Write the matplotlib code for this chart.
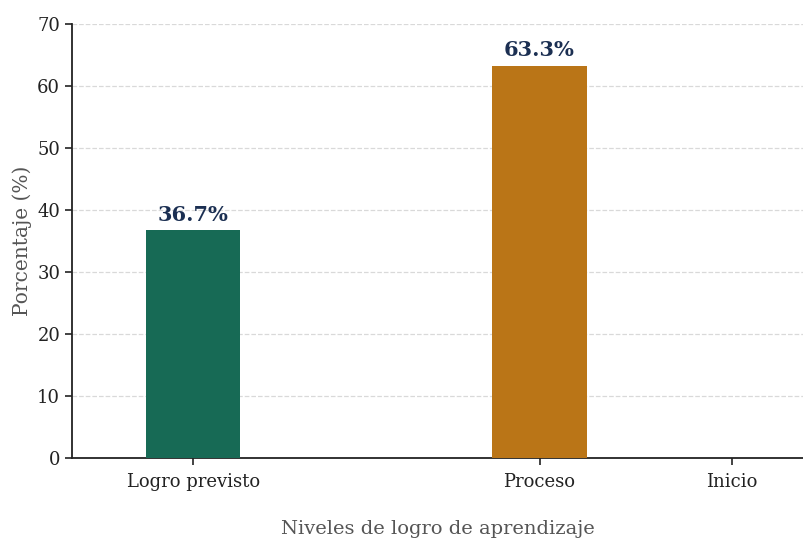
import matplotlib.pyplot as plt

categories = ['Logro previsto', 'Proceso', 'Inicio']
values = [36.7, 63.3, 0.0]
labels = ['36.7%', '63.3%', '']
colors = ['#176A55', '#BA7517', '#8C8C8C']

# layout positions along the x axis (uneven, as in the original)
xpos = [0, 1.8, 2.8]

plt.rcParams['font.family'] = ['DejaVu Serif']

fig = plt.figure(figsize=(8.04, 5.4), dpi=100)
ax = fig.add_axes([0.0896, 0.152, 0.9104, 0.8036])

bars = ax.bar(xpos, values, width=0.49, color=colors, zorder=3)
for b, v, lab in zip(bars, values, labels):
    if lab:
        ax.text(b.get_x() + b.get_width() / 2, v + 0.9, lab, ha='center', va='bottom',
                fontsize=15, fontweight='bold', color='#1B2F52', zorder=4)

ax.set_ylim(0, 70)
ax.set_xlim(-0.629, 3.174)
ax.set_yticks(range(0, 71, 10))
ax.set_xticks(xpos)
ax.set_xticklabels(categories)
ax.tick_params(axis='both', labelsize=13, colors='#222222', length=5, width=1.2)
ax.tick_params(axis='x', pad=6)

ax.yaxis.grid(True, linestyle='--', color='#D9D9D9', linewidth=0.9, zorder=0)
ax.set_axisbelow(True)

for s in ['top', 'right']:
    ax.spines[s].set_visible(False)
for s in ['left', 'bottom']:
    ax.spines[s].set_linewidth(1.3)
    ax.spines[s].set_color('#222222')

ax.set_ylabel('Porcentaje (%)', fontsize=14.5, color='#555555', labelpad=4)
ax.set_xlabel('Niveles de logro de aprendizaje', fontsize=14, color='#555555', labelpad=21)

fig.savefig('out.png', dpi=100)
